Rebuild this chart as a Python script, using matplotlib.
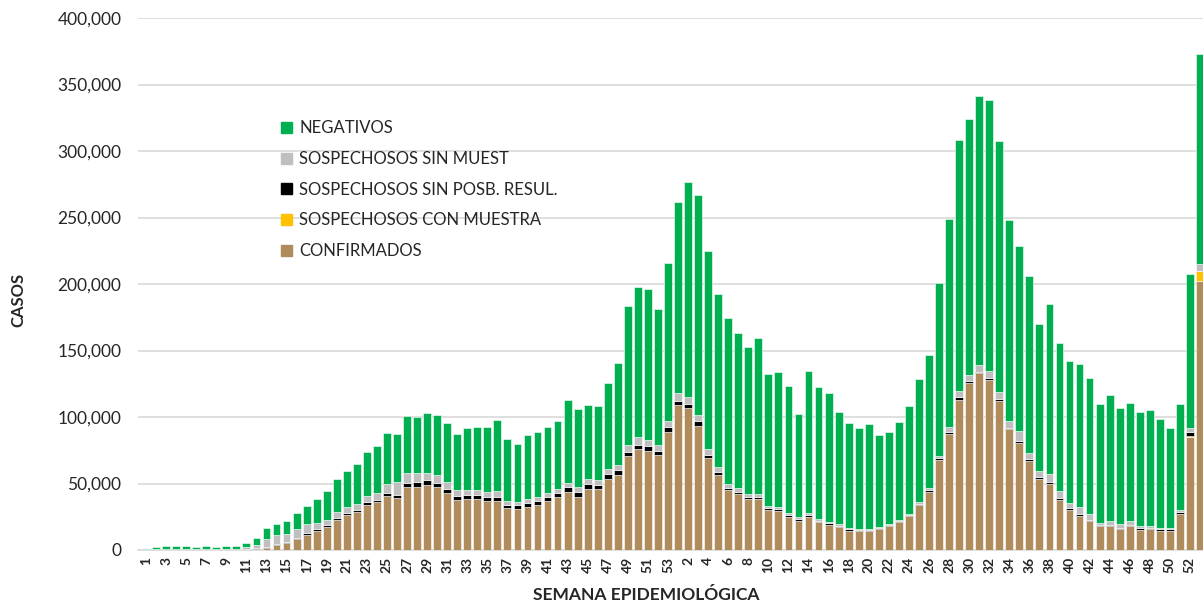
import matplotlib
matplotlib.use("Agg")
import matplotlib.pyplot as plt
from matplotlib.patches import Patch
from matplotlib.ticker import FuncFormatter, MultipleLocator

plt.rcParams['font.family'] = ['Lato', 'DejaVu Sans']

# Semana epidemiológica labels: 2020 (1-53), 2021 (1-52), 2022 (1)
weeks = list(range(1, 54)) + list(range(1, 53)) + [1]

# values in thousands of cases
confirmados = [
    0, 0, 0, 0, 0, 0, 0, 0, 0, 0, 0.3, 1.0, 1.5, 3.5, 5.0, 8.0, 11.0, 14.0, 17.0, 22.5,
    26.0, 28.6, 34.0, 35.8, 40.8, 39.3, 47.2, 47.6, 49.1, 47.6, 42.6, 37.6, 38.1, 38.1, 37.1, 37.1,
    31.6, 31.1, 32.6, 33.8, 37.1, 40.1, 43.6, 40.1, 46.1, 45.6, 53.6, 56.6, 70.7, 75.7, 74.7, 71.7, 89.0,
    109.0, 107.0, 93.2, 69.4, 56.6, 45.1, 41.8, 38.1, 38.3, 30.0, 29.3, 24.6, 22.0, 24.6, 20.8, 19.0,
    17.5, 14.5, 14.0, 14.0, 15.5, 17.8, 20.8, 25.6, 33.6, 43.9, 68.0, 87.3, 112.8, 125.3, 132.8, 128.0,
    112.3, 90.7, 80.3, 67.0, 53.3, 49.9, 37.6, 30.1, 25.9, 22.1, 17.9, 17.9, 16.0, 17.9, 15.2, 15.7,
    14.4, 14.4, 26.9, 85.1,
    202.2,
]
con_muestra = [0] * 104 + [0.5, 7.2]
sin_posb_resul = [
    0, 0, 0, 0, 0, 0, 0, 0, 0, 0, 0.2, 0.5, 1.0, 1.0, 1.0, 1.0, 1.5, 1.5, 1.8, 1.8,
    1.5, 1.5, 2.0, 2.0, 1.8, 2.3, 3.4, 3.5, 3.5, 3.0, 3.5, 3.0, 3.0, 3.0, 3.0, 3.0,
    2.3, 2.5, 3.0, 3.0, 3.0, 2.5, 3.5, 3.5, 3.5, 3.5, 3.5, 3.5, 3.0, 3.5, 3.5, 3.0, 3.3,
    3.3, 2.8, 3.5, 2.3, 2.0, 1.5, 1.8, 2.0, 1.8, 1.3, 1.3, 1.5, 1.5, 2.0, 1.0, 1.0,
    0.8, 1.0, 1.3, 1.0, 0.8, 1.0, 0.8, 1.0, 1.0, 1.0, 1.0, 1.6, 1.9, 1.6, 1.3, 1.3,
    1.6, 1.3, 1.6, 1.3, 1.6, 1.6, 1.6, 1.6, 1.3, 0.8, 0.8, 0.8, 0.8, 0.8, 1.1, 1.1,
    1.1, 1.1, 1.3, 2.9,
    0.5,
]
sin_muest = [
    0.2, 0.5, 0.7, 0.7, 0.7, 0.5, 0.7, 0.5, 0.7, 0.7, 1.5, 2.5, 5.8, 6.8, 6.0, 7.0, 6.8, 4.5, 3.8, 4.0,
    5.0, 4.5, 4.8, 5.3, 7.0, 9.5, 7.6, 7.0, 5.0, 6.0, 5.0, 4.5, 4.0, 4.0, 3.5, 4.0,
    2.8, 2.8, 2.8, 3.0, 3.0, 3.5, 3.5, 4.0, 3.5, 3.5, 4.0, 3.5, 5.0, 5.5, 4.5, 4.0, 4.5,
    5.5, 5.5, 5.0, 4.5, 4.0, 3.0, 2.8, 2.0, 2.0, 1.8, 2.0, 1.5, 1.5, 1.5, 1.3, 1.0,
    1.0, 0.8, 0.8, 0.8, 0.8, 0.8, 0.8, 0.8, 1.3, 1.5, 2.0, 3.6, 4.8, 5.0, 4.8, 5.3,
    4.8, 4.8, 7.5, 4.5, 4.5, 5.3, 4.8, 3.7, 5.0, 4.5, 1.9, 2.9, 2.7, 2.9, 1.6, 1.6,
    0.8, 0.8, 1.9, 2.9,
    4.8,
]
negativos = [
    0.8, 2.0, 2.3, 2.3, 2.3, 2.0, 2.3, 2.0, 2.3, 2.3, 3.0, 5.0, 8.0, 8.2, 9.8, 11.8, 13.5, 18.0, 21.4, 25.1,
    26.9, 30.4, 33.2, 34.9, 38.4, 35.9, 42.8, 42.1, 45.4, 45.1, 44.6, 42.1, 46.4, 47.1, 49.1, 53.4,
    47.0, 43.3, 48.1, 49.2, 49.1, 50.9, 62.2, 58.4, 55.9, 55.7, 64.7, 77.2, 104.7, 112.8, 113.3, 102.7, 119.2,
    144.2, 161.7, 165.3, 148.6, 129.6, 124.6, 116.6, 110.8, 117.5, 99.2, 101.0, 95.7, 77.0, 106.2, 99.4, 97.3,
    84.4, 78.9, 75.6, 78.7, 69.1, 68.9, 73.6, 80.6, 92.4, 100.0, 130.0, 156.0, 188.8, 192.1, 202.2, 203.8,
    188.8, 151.0, 138.9, 133.1, 110.8, 127.8, 111.5, 106.5, 107.5, 102.2, 89.5, 94.7, 87.2, 89.1, 85.8, 86.9,
    82.4, 75.7, 80.0, 115.8,
    158.1,
]

series = [
    ("CONFIRMADOS", confirmados, "#B08B5B"),
    ("SOSPECHOSOS CON MUESTRA", con_muestra, "#FFC000"),
    ("SOSPECHOSOS SIN POSB. RESUL.", sin_posb_resul, "#000000"),
    ("SOSPECHOSOS SIN MUEST", sin_muest, "#BFBFBF"),
    ("NEGATIVOS", negativos, "#00B050"),
]

fig = plt.figure(figsize=(12.03, 6.06), dpi=100)
ax = fig.add_axes([138 / 1203, 56 / 606, (1203 - 138) / 1203, 532 / 606])

x = list(range(len(weeks)))
bottom = [0.0] * len(weeks)
for name, vals, color in series:
    v = [val * 1000 for val in vals]
    ax.bar(x, v, bottom=bottom, width=0.78, color=color, edgecolor="white", linewidth=0.4, label=name, zorder=3)
    bottom = [b + vv for b, vv in zip(bottom, v)]

ax.set_ylim(0, 400000)
ax.set_xlim(-0.8, len(weeks) - 1 + 0.3)
ax.yaxis.set_major_locator(MultipleLocator(50000))
ax.yaxis.set_major_formatter(FuncFormatter(lambda v, p: f"{int(v):,}"))
ax.grid(axis="y", color="#D9D9D9", linewidth=1.2, zorder=0)
for s in ["top", "right", "left"]:
    ax.spines[s].set_visible(False)
ax.spines["bottom"].set_color("#D9D9D9")
ax.spines["bottom"].set_linewidth(1.2)
ax.tick_params(axis="y", length=0, labelsize=12.5, colors="#262626", pad=12)
ax.set_xticks(x[::2])
ax.set_xticklabels([str(w) for w in weeks[::2]], rotation=90, fontsize=10, fontweight="bold")
ax.tick_params(axis="x", length=0, pad=5, colors="#262626")

ax.set_xlabel("SEMANA EPIDEMIOLÓGICA", fontsize=12.5, fontweight="bold", color="#262626")
ax.xaxis.set_label_coords((646 - 138) / 1065, (550 - 587) / 532)
ax.set_ylabel("CASOS", fontsize=12, fontweight="bold", color="#262626")
ax.yaxis.set_label_coords((26 - 138) / 1065, (550 - 300) / 532)

handles = [Patch(color=c, label=n) for n, _, c in series][::-1]
leg = ax.legend(handles=handles, loc="upper left", bbox_to_anchor=(0.128, 0.82), frameon=False,
                fontsize=12, handlelength=0.65, handleheight=0.65, handletextpad=0.45, labelspacing=0.88,
                borderaxespad=0)
for t in leg.get_texts():
    t.set_color("#262626")

fig.savefig("out.png", dpi=100)
